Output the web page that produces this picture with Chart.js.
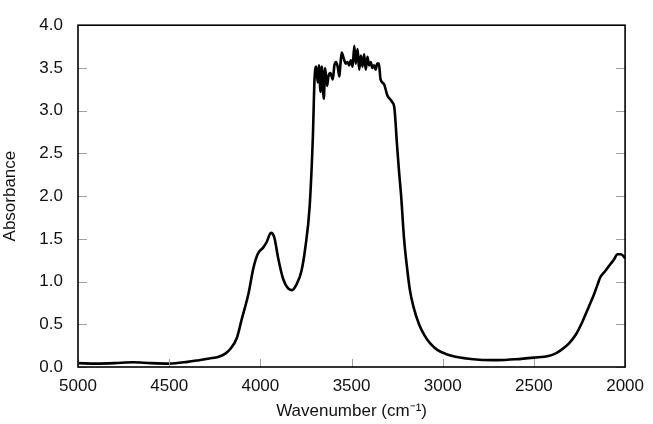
<!DOCTYPE html>
<html>
<head>
<meta charset="utf-8">
<script src="https://cdn.jsdelivr.net/npm/chart.js@4.4.1/dist/chart.umd.min.js"></script>
<style>
  html, body { margin: 0; padding: 0; background: #fff; }
  #wrap { width: 653px; height: 424px; }
</style>
</head>
<body>
<div id="wrap"><canvas id="espectro" width="653" height="424"></canvas></div>
<script>
var wavenumbers = [5000, 4900, 4800, 4700, 4600, 4500, 4400, 4337, 4280, 4228, 4190, 4165, 4129, 4102, 4065, 4038, 4015, 3984, 3966, 3942, 3924, 3902, 3875, 3848, 3826, 3803, 3775, 3754, 3730, 3712,
  3703, 3694, 3685, 3679, 3670, 3663, 3652, 3645, 3634, 3627, 3616, 3603, 3594, 3585, 3576, 3567, 3562, 3554, 3543, 3531, 3522, 3513, 3504, 3494, 3485, 3477, 3467, 3458, 3449, 3440, 3431, 3422, 3413, 3404, 3395, 3386, 3377, 3368, 3359, 3350,
  3341, 3322, 3304, 3277, 3265, 3250, 3240, 3228, 3212, 3195, 3180, 3160, 3130, 3100, 3070, 3030, 2980, 2930, 2870, 2800, 2700, 2600, 2500, 2420, 2380, 2350, 2310, 2270, 2234, 2200, 2174, 2150, 2136, 2110, 2082, 2060, 2043, 2025, 2010, 2000];
var absorbance = [0.045, 0.04, 0.045, 0.055, 0.045, 0.04, 0.06, 0.08, 0.1, 0.12, 0.16, 0.21, 0.34, 0.56, 0.86, 1.16, 1.32, 1.4, 1.46, 1.57, 1.52, 1.27, 1.03, 0.92, 0.9, 0.96, 1.12, 1.39, 1.87, 2.7,
  3.365, 3.515, 3.33, 3.53, 3.22, 3.515, 3.14, 3.5, 3.29, 3.4, 3.44, 3.365, 3.53, 3.57, 3.515, 3.4, 3.515, 3.68, 3.61, 3.55, 3.57, 3.53, 3.59, 3.515, 3.76, 3.55, 3.72, 3.48, 3.645, 3.515, 3.66, 3.48, 3.63, 3.53, 3.57, 3.5, 3.53, 3.48, 3.55, 3.55,
  3.365, 3.31, 3.18, 3.1, 3.03, 2.58, 2.3, 2.0, 1.5, 1.15, 0.9, 0.7, 0.5, 0.37, 0.28, 0.2, 0.15, 0.12, 0.1, 0.085, 0.08, 0.09, 0.11, 0.13, 0.16, 0.2, 0.27, 0.38, 0.53, 0.7, 0.83, 0.97, 1.05, 1.12, 1.2, 1.26, 1.32, 1.32, 1.3, 1.27];
var xTicks = [5000, 4500, 4000, 3500, 3000, 2500, 2000];
var yTicks = [0.0, 0.5, 1.0, 1.5, 2.0, 2.5, 3.0, 3.5, 4.0];

var puntos = [];
for (var i = 0; i < wavenumbers.length; i++) {
    puntos.push({ x: wavenumbers[i], y: absorbance[i] });
}

// marco y marcas hacia dentro
var marco = {
    id: 'marco',
    afterDraw: function (chart) {
        var ctx = chart.ctx, a = chart.chartArea;
        var sx = chart.scales.x, sy = chart.scales.y;
        ctx.save();
        ctx.strokeStyle = '#a0a0a0';
        ctx.lineWidth = 1;
        ctx.beginPath();
        for (var i = 0; i < yTicks.length; i++) {
            var py = Math.round(sy.getPixelForValue(yTicks[i])) + 0.5;
            ctx.moveTo(a.left, py); ctx.lineTo(a.left + 9, py);
            ctx.moveTo(a.right, py); ctx.lineTo(a.right - 9, py);
        }
        for (var j = 0; j < xTicks.length; j++) {
            var px = Math.round(sx.getPixelForValue(xTicks[j])) + 0.5;
            ctx.moveTo(px, a.bottom); ctx.lineTo(px, a.bottom - 8);
        }
        ctx.stroke();
        ctx.strokeStyle = '#000';
        ctx.lineWidth = 1.6;
        ctx.strokeRect(a.left, a.top, a.right - a.left, a.bottom - a.top);
        ctx.restore();
    }
};

var fuente = { family: "'Liberation Sans', Arial, sans-serif", size: 17 };

new Chart(document.getElementById('espectro').getContext('2d'), {
    type: 'scatter',
    data: {
        datasets: [{
            data: puntos,
            showLine: true,
            borderColor: '#000',
            borderWidth: 2.6,
            pointRadius: 0,
            cubicInterpolationMode: 'monotone',
            fill: false
        }]
    },
    options: {
        responsive: false,
        animation: false,
        maintainAspectRatio: false,
        layout: { padding: { top: 10, right: 23, left: 0, bottom: 0 } },
        plugins: { legend: { display: false }, tooltip: { enabled: false } },
        scales: {
            x: {
                type: 'linear',
                reverse: true,
                min: 2000,
                max: 5000,
                afterFit: function (s) { s.height = 57; },
                afterBuildTicks: function (s) { s.ticks = xTicks.map(function (v) { return { value: v }; }); },
                grid: { display: false, drawTicks: false },
                border: { display: false },
                ticks: { color: '#111', font: fuente, padding: 9, maxRotation: 0, autoSkip: false,
                    callback: function (v) { return String(v); } },
                title: { display: true, text: 'Wavenumber (cm\u207B\u00B9)', color: '#111', font: fuente, padding: { top: 0, bottom: 2 } }
            },
            y: {
                type: 'linear',
                min: 0,
                max: 4,
                afterFit: function (s) { s.width = 78; },
                afterBuildTicks: function (s) { s.ticks = yTicks.map(function (v) { return { value: v }; }); },
                grid: { display: false, drawTicks: false },
                border: { display: false },
                ticks: { color: '#111', font: fuente, padding: 15, autoSkip: false,
                    callback: function (v) { return v.toFixed(1); } },
                title: { display: true, text: 'Absorbance', color: '#111', font: fuente, padding: { top: 0, bottom: 0 } }
            }
        }
    },
    plugins: [marco]
});
</script>
</body>
</html>
